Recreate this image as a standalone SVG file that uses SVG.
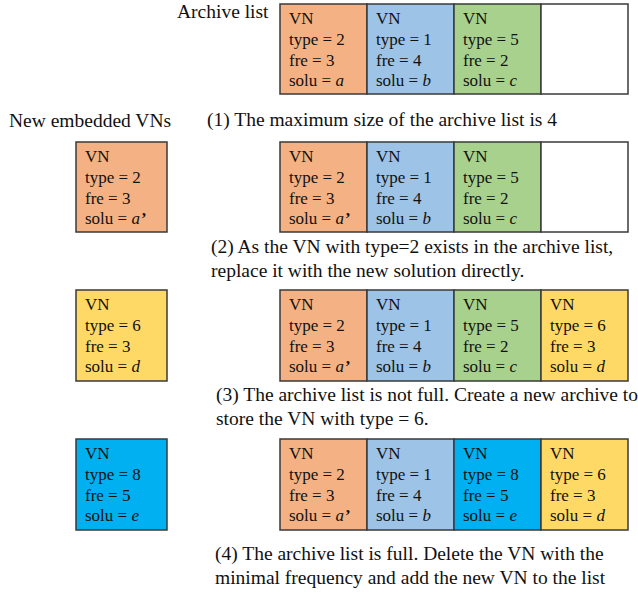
<svg xmlns="http://www.w3.org/2000/svg" width="638" height="593" viewBox="0 0 638 593">
<style>
text{font-family:"Liberation Serif","Times New Roman",serif;fill:#111;}
.lbl{font-size:19.5px;}
.c{font-size:17px;}
.i{font-style:italic;}
.q{font-weight:bold;}
rect{stroke:#3a3a3a;stroke-width:1.5;}
.o{fill:#F4B183;}
.b{fill:#9DC3E6;}
.g{fill:#A9D18E;}
.y{fill:#FFD966;}
.k{fill:#00B0F0;}
.w{fill:#FFFFFF;}
</style>
<text class="lbl" x="177" y="18">Archive list</text>
<text class="lbl" x="9" y="127">New embedded VNs</text>
<text class="lbl" x="207" y="126">(1) The maximum size of the archive list is 4</text>
<text class="lbl" x="211" y="253">(2) As the VN with type=2 exists in the archive list,</text>
<text class="lbl" x="211" y="277">replace it with the new solution directly.</text>
<text class="lbl" x="216" y="401">(3) The archive list is not full. Create a new archive to</text>
<text class="lbl" x="216" y="425">store the VN with type = 6.</text>
<text class="lbl" x="215" y="560">(4) The archive list is full. Delete the VN with the</text>
<text class="lbl" x="215" y="584">minimal frequency and add the new VN to the list</text>

<!-- Row 0: initial archive -->
<g id="r0c1"><rect class="o" x="280" y="4" width="87" height="90"/>
<text class="c" x="289" y="24">VN</text><text class="c" x="289" y="45">type = 2</text><text class="c" x="289" y="65.7">fre = 3</text><text class="c" x="289" y="86">solu = <tspan class="i">a</tspan></text></g>
<g id="r0c2"><rect class="b" x="367" y="4" width="87" height="90"/>
<text class="c" x="376" y="24">VN</text><text class="c" x="376" y="45">type = 1</text><text class="c" x="376" y="65.7">fre = 4</text><text class="c" x="376" y="86">solu = <tspan class="i">b</tspan></text></g>
<g id="r0c3"><rect class="g" x="454" y="4" width="87" height="90"/>
<text class="c" x="463" y="24">VN</text><text class="c" x="463" y="45">type = 5</text><text class="c" x="463" y="65.7">fre = 2</text><text class="c" x="463" y="86">solu = <tspan class="i">c</tspan></text></g>
<g id="r0c4"><rect class="w" x="541" y="4" width="87" height="90"/></g>

<!-- Row 1 -->
<g id="new1"><rect class="o" x="76" y="142" width="91" height="90"/>
<text class="c" x="85" y="162">VN</text><text class="c" x="85" y="183">type = 2</text><text class="c" x="85" y="203.7">fre = 3</text><text class="c" x="85" y="224">solu = <tspan class="i">a</tspan><tspan class="q" dx="1">’</tspan></text></g>
<g id="r1c1"><rect class="o" x="280" y="142" width="87" height="90"/>
<text class="c" x="289" y="162">VN</text><text class="c" x="289" y="183">type = 2</text><text class="c" x="289" y="203.7">fre = 3</text><text class="c" x="289" y="224">solu = <tspan class="i">a</tspan><tspan class="q" dx="1">’</tspan></text></g>
<g id="r1c2"><rect class="b" x="367" y="142" width="87" height="90"/>
<text class="c" x="376" y="162">VN</text><text class="c" x="376" y="183">type = 1</text><text class="c" x="376" y="203.7">fre = 4</text><text class="c" x="376" y="224">solu = <tspan class="i">b</tspan></text></g>
<g id="r1c3"><rect class="g" x="454" y="142" width="87" height="90"/>
<text class="c" x="463" y="162">VN</text><text class="c" x="463" y="183">type = 5</text><text class="c" x="463" y="203.7">fre = 2</text><text class="c" x="463" y="224">solu = <tspan class="i">c</tspan></text></g>
<g id="r1c4"><rect class="w" x="541" y="142" width="87" height="90"/></g>

<!-- Row 2 -->
<g id="new2"><rect class="y" x="76" y="290" width="91" height="91"/>
<text class="c" x="85" y="310">VN</text><text class="c" x="85" y="331">type = 6</text><text class="c" x="85" y="351.7">fre = 3</text><text class="c" x="85" y="372">solu = <tspan class="i">d</tspan></text></g>
<g id="r2c1"><rect class="o" x="280" y="290" width="87" height="91"/>
<text class="c" x="289" y="310">VN</text><text class="c" x="289" y="331">type = 2</text><text class="c" x="289" y="351.7">fre = 3</text><text class="c" x="289" y="372">solu = <tspan class="i">a</tspan><tspan class="q" dx="1">’</tspan></text></g>
<g id="r2c2"><rect class="b" x="367" y="290" width="87" height="91"/>
<text class="c" x="376" y="310">VN</text><text class="c" x="376" y="331">type = 1</text><text class="c" x="376" y="351.7">fre = 4</text><text class="c" x="376" y="372">solu = <tspan class="i">b</tspan></text></g>
<g id="r2c3"><rect class="g" x="454" y="290" width="87" height="91"/>
<text class="c" x="463" y="310">VN</text><text class="c" x="463" y="331">type = 5</text><text class="c" x="463" y="351.7">fre = 2</text><text class="c" x="463" y="372">solu = <tspan class="i">c</tspan></text></g>
<g id="r2c4"><rect class="y" x="541" y="290" width="87" height="91"/>
<text class="c" x="550" y="310">VN</text><text class="c" x="550" y="331">type = 6</text><text class="c" x="550" y="351.7">fre = 3</text><text class="c" x="550" y="372">solu = <tspan class="i">d</tspan></text></g>

<!-- Row 3 -->
<g id="new3"><rect class="k" x="76" y="439" width="91" height="91"/>
<text class="c" x="85" y="459">VN</text><text class="c" x="85" y="480">type = 8</text><text class="c" x="85" y="500.7">fre = 5</text><text class="c" x="85" y="521">solu = <tspan class="i">e</tspan></text></g>
<g id="r3c1"><rect class="o" x="280" y="439" width="87" height="91"/>
<text class="c" x="289" y="459">VN</text><text class="c" x="289" y="480">type = 2</text><text class="c" x="289" y="500.7">fre = 3</text><text class="c" x="289" y="521">solu = <tspan class="i">a</tspan><tspan class="q" dx="1">’</tspan></text></g>
<g id="r3c2"><rect class="b" x="367" y="439" width="87" height="91"/>
<text class="c" x="376" y="459">VN</text><text class="c" x="376" y="480">type = 1</text><text class="c" x="376" y="500.7">fre = 4</text><text class="c" x="376" y="521">solu = <tspan class="i">b</tspan></text></g>
<g id="r3c3"><rect class="k" x="454" y="439" width="87" height="91"/>
<text class="c" x="463" y="459">VN</text><text class="c" x="463" y="480">type = 8</text><text class="c" x="463" y="500.7">fre = 5</text><text class="c" x="463" y="521">solu = <tspan class="i">e</tspan></text></g>
<g id="r3c4"><rect class="y" x="541" y="439" width="87" height="91"/>
<text class="c" x="550" y="459">VN</text><text class="c" x="550" y="480">type = 6</text><text class="c" x="550" y="500.7">fre = 3</text><text class="c" x="550" y="521">solu = <tspan class="i">d</tspan></text></g>
</svg>
